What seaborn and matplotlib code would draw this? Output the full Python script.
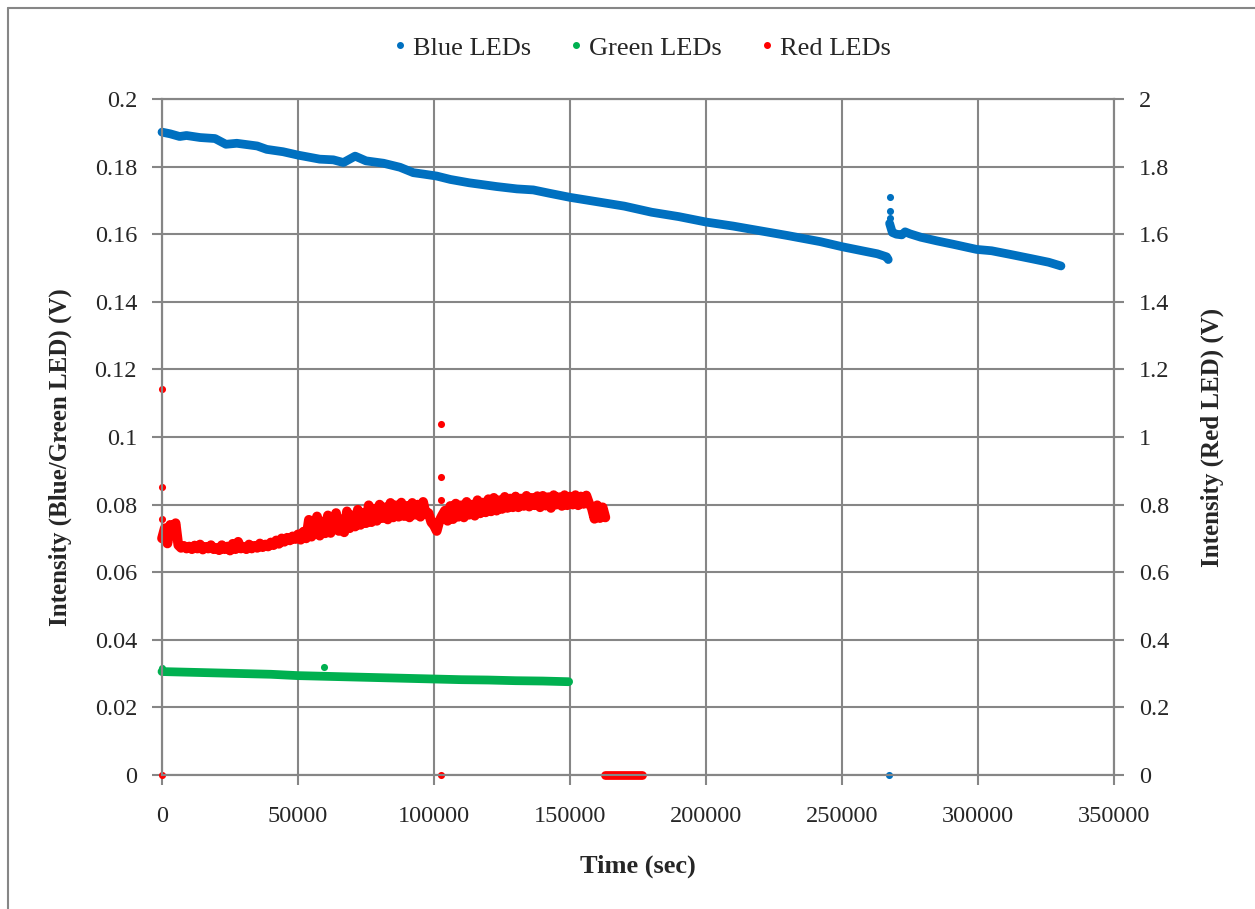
import matplotlib
matplotlib.use("Agg")
import matplotlib.pyplot as plt
from matplotlib.lines import Line2D
import seaborn as sns

# ---------------- data ----------------
blue_t1 = [0, 3000, 6500, 9000, 14000, 19500, 23500, 27500, 35000, 38500, 44500, 50000,
           58000, 63000, 66700, 71000, 75000, 81400, 87500, 92400, 96000, 101000, 106000,
           113000, 123000, 130500, 136500, 142500, 150000, 160000, 170000, 180000, 190000,
           200000, 210000, 220000, 230000, 242000, 250000, 258000, 263000, 266400, 267000]
blue_v1 = [0.1902, 0.1897, 0.1889, 0.1892, 0.1886, 0.1883, 0.1866, 0.1869, 0.1861, 0.1851,
           0.1844, 0.1834, 0.1822, 0.1820, 0.1812, 0.1831, 0.1817, 0.1810, 0.1798, 0.1782,
           0.1778, 0.1772, 0.1762, 0.1752, 0.1741, 0.1734, 0.1731, 0.1721, 0.1709, 0.1696,
           0.1683, 0.1665, 0.1652, 0.1636, 0.1624, 0.1610, 0.1596, 0.1578, 0.1563, 0.1550,
           0.1542, 0.1533, 0.1525]
blue_t2 = [267500, 268500, 270000, 272000, 273200, 275000, 279000, 285000, 291000, 299500,
           305000, 312000, 320000, 326000, 330500]
blue_v2 = [0.1632, 0.1605, 0.1600, 0.1598, 0.1607, 0.1601, 0.1591, 0.1580, 0.1570, 0.1555,
           0.1551, 0.1540, 0.1527, 0.1517, 0.1506]
blue_out_t = [267500, 267500, 267500, 267300]
blue_out_v = [0.1709, 0.1669, 0.1649, 0.0]

green_t = [0, 10000, 20000, 30000, 40000, 50000, 60000, 70000, 80000, 90000, 100000,
           110000, 120000, 130000, 140000, 149500]
green_v = [0.0306, 0.0304, 0.0302, 0.0300, 0.0298, 0.0294, 0.0292, 0.0290, 0.0288, 0.0286,
           0.0284, 0.0282, 0.0281, 0.0279, 0.0278, 0.0276]
green_out_t = [0, 59700, 83000]
green_out_v = [0.0316, 0.0320, 0.0291]

red_t = list(range(0, 164000, 1000))
red_v = [0.700, 0.730, 0.685, 0.740, 0.720, 0.745,
         0.680, 0.672, 0.678, 0.670,
         0.676, 0.668, 0.679, 0.670, 0.682, 0.667, 0.675, 0.670, 0.680, 0.668,
         0.672, 0.665, 0.680, 0.668, 0.676, 0.664, 0.684, 0.668, 0.690, 0.670,
         0.674, 0.668, 0.682, 0.670, 0.678, 0.672, 0.685, 0.674, 0.682, 0.676,
         0.688, 0.680, 0.694, 0.684, 0.700, 0.690, 0.702, 0.694, 0.706, 0.698,
         0.712, 0.696, 0.720, 0.700, 0.755, 0.705, 0.725, 0.765, 0.708, 0.750,
         0.715, 0.768, 0.716, 0.742, 0.775, 0.722, 0.756, 0.718, 0.780, 0.730,
         0.768, 0.735, 0.785, 0.740, 0.775, 0.745, 0.798, 0.748, 0.788, 0.752,
         0.800, 0.760, 0.792, 0.756, 0.805, 0.762, 0.798, 0.764, 0.806, 0.766,
         0.796, 0.762, 0.805, 0.770, 0.800, 0.764, 0.808, 0.772, 0.775, 0.748,
         0.738, 0.722, 0.752, 0.768, 0.782, 0.752, 0.796, 0.757, 0.803, 0.764,
         0.798, 0.762, 0.808, 0.770, 0.800, 0.767, 0.813, 0.774, 0.806, 0.777,
         0.816, 0.780, 0.820, 0.782, 0.813, 0.787, 0.823, 0.790, 0.818, 0.792,
         0.824, 0.792, 0.818, 0.796, 0.826, 0.794, 0.820, 0.798, 0.825, 0.792,
         0.826, 0.797, 0.822, 0.790, 0.828, 0.800, 0.822, 0.796, 0.828, 0.798,
         0.824, 0.800, 0.828, 0.798, 0.824, 0.802, 0.827, 0.804, 0.790, 0.758,
         0.798, 0.760, 0.792, 0.762]
red_zero_t = [163000, 166000, 169000, 172000, 175000, 176500]
red_zero_v = [0, 0, 0, 0, 0, 0]
red_out_t = [0, 0, 0, 0, 102400, 102400, 102400, 102400]
red_out_v = [1.141, 0.851, 0.757, 0.0, 1.038, 0.881, 0.814, 0.0]

x_ticks = [0, 50000, 100000, 150000, 200000, 250000, 300000, 350000]
y_ticks_left = [0, 0.02, 0.04, 0.06, 0.08, 0.1, 0.12, 0.14, 0.16, 0.18, 0.2]
y_ticks_right = [0, 0.2, 0.4, 0.6, 0.8, 1, 1.2, 1.4, 1.6, 1.8, 2]
labels = ["Blue LEDs", "Green LEDs", "Red LEDs"]
colors = ["#0070C0", "#00B050", "#FF0000"]

# ---------------- style ----------------
sns.set_style("white")
plt.rcParams["font.family"] = ["Liberation Serif", "DejaVu Serif"]
GRID = "#868686"
FS_TICK = 17.5
FS_LAB = 18
FS_LEG = 19

fig = plt.figure(figsize=(12.55, 9.09), dpi=100)
ax = fig.add_axes([162 / 1255, 1 - 775 / 909, 952 / 1255, 676 / 909])
ax2 = ax.twinx()

lkw = dict(linewidth=6.3, solid_capstyle="round", solid_joinstyle="round", legend=False,
           clip_on=False)
skw = dict(s=26, linewidth=0, legend=False, clip_on=False)
sns.lineplot(x=blue_t1, y=blue_v1, ax=ax, color=colors[0], **lkw)
sns.lineplot(x=blue_t2, y=blue_v2, ax=ax, color=colors[0], **lkw)
sns.scatterplot(x=blue_out_t, y=blue_out_v, ax=ax, color=colors[0], **skw)
sns.lineplot(x=green_t, y=green_v, ax=ax, color=colors[1], **lkw)
sns.scatterplot(x=green_out_t, y=green_out_v, ax=ax, color=colors[1], **skw)

sns.lineplot(x=red_t, y=red_v, ax=ax2, color=colors[2], linewidth=7, solid_capstyle="round",
             solid_joinstyle="round", legend=False, clip_on=False)
sns.lineplot(x=red_zero_t, y=red_zero_v, ax=ax2, color=colors[2], **lkw)
sns.scatterplot(x=red_out_t, y=red_out_v, ax=ax2, color=colors[2], **skw)

for a in (ax, ax2):
    a.set_xlim(0, 350000)
    for sp in a.spines.values():
        sp.set_color(GRID)
        sp.set_linewidth(1.5)
ax.set_ylim(0, 0.2)
ax2.set_ylim(0, 2)
ax.set_xticks(x_ticks)
ax.set_xticklabels([str(v) for v in x_ticks])
ax.set_yticks(y_ticks_left)
ax.set_yticklabels([f"{v:g}" for v in y_ticks_left])
ax2.set_yticks(y_ticks_right)
ax2.set_yticklabels([f"{v:g}" for v in y_ticks_right])

ax.grid(True, color=GRID, linewidth=1.5)
ax.set_axisbelow(True)
ax.tick_params(axis="y", direction="out", length=7, width=1.5, color=GRID, labelsize=FS_TICK, pad=11, left=True)
ax.tick_params(axis="x", direction="out", length=7, width=1.5, color=GRID, labelsize=FS_TICK, pad=15, bottom=True)
ax2.tick_params(axis="y", direction="out", length=7, width=1.5, color=GRID, labelsize=FS_TICK, pad=11, right=True)

ax.set_xlabel("Time (sec)", fontsize=FS_LAB + 1, fontweight="bold")
ax.xaxis.label.set_va("center")
ax.xaxis.set_label_coords(0.5, -(866 - 775) / 676)
ax.set_ylabel("Intensity (Blue/Green LED) (V)", fontsize=FS_LAB, fontweight="bold")
ax.yaxis.label.set_va("center")
ax.yaxis.set_label_coords((60 - 162) / 952, 1 - (457 - 99) / 676)
ax2.set_ylabel("Intensity (Red LED) (V)", fontsize=FS_LAB, fontweight="bold", rotation=90)
ax2.yaxis.label.set_va("center")
ax2.yaxis.set_label_coords((1212 - 162) / 952, 1 - (437 - 99) / 676)

handles = [Line2D([], [], marker="o", linestyle="", color=c, markersize=4) for c in colors]
fig.legend(handles, labels, loc="center", bbox_to_anchor=(640 / 1255, 1 - 48 / 909),
           ncol=3, frameon=False, fontsize=FS_LEG, handletextpad=0.1, columnspacing=1.3,
           handlelength=0.8)

# outer chart-area frame (left and top edges visible)
fx = 8 / 1255
fy = 1 - 8 / 909
fig.add_artist(Line2D([fx, fx], [0, fy], color=GRID, linewidth=1.5, transform=fig.transFigure))
fig.add_artist(Line2D([fx, 1], [fy, fy], color=GRID, linewidth=1.5, transform=fig.transFigure))

fig.savefig("out.png", dpi=100)
